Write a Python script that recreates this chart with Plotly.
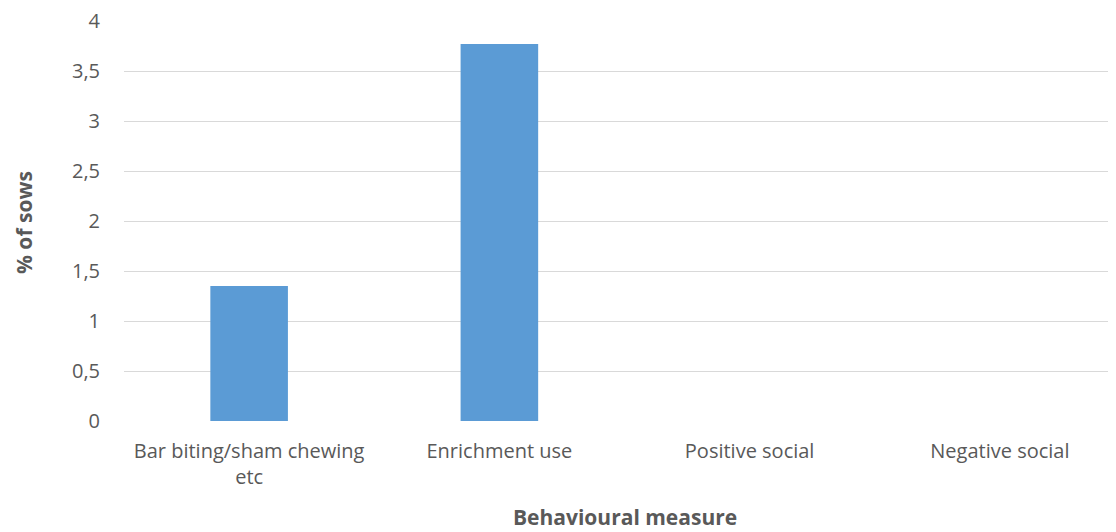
import plotly.graph_objects as go

categories = ["Bar biting/sham chewing<br>etc", "Enrichment use", "Positive social", "Negative social"]
values = [1.35, 3.77, 0, 0]
y_title = "% of sows"
x_title = "Behavioural measure"

FONT = "Open Sans, sans-serif"
TXT = "#595959"

fig = go.Figure(go.Bar(x=categories, y=values, marker=dict(color="#5b9bd5", line=dict(width=0))))

fig.update_layout(
    width=1108, height=524,
    margin=dict(l=116, r=0, t=13, b=111),
    paper_bgcolor="white", plot_bgcolor="white",
    separators=", ",
    bargap=0.69,
    showlegend=False,
    font=dict(family=FONT, size=20, color=TXT),
    xaxis=dict(range=[-0.5, 3.464], showgrid=False, zeroline=False, showline=False,
               ticks="", tickfont=dict(size=20, color=TXT), ticklabelstandoff=16,
               ticklabeloverflow="allow"),
    yaxis=dict(range=[0, 4], dtick=0.5, showgrid=True, gridcolor="#d9d9d9", gridwidth=1,
               zeroline=False, showline=False, ticks="", tickfont=dict(size=20, color=TXT),
               ticklabelstandoff=23, ticklabeloverflow="allow"),
    annotations=[
        dict(text="<b>" + y_title + "</b>", xref="paper", yref="paper",
             x=(16 - 116) / 992, y=0.495, xanchor="center", yanchor="middle",
             textangle=-90, showarrow=False, borderpad=0,
             font=dict(size=21, color=TXT, family=FONT)),
        dict(text="<b>" + x_title + "</b>", xref="paper", yref="paper",
             x=(617 - 116) / 992, y=-(509 - 413) / 400, xanchor="center", yanchor="middle",
             showarrow=False, font=dict(size=21, color=TXT, family=FONT)),
    ],
)

fig.write_html("out.html")
